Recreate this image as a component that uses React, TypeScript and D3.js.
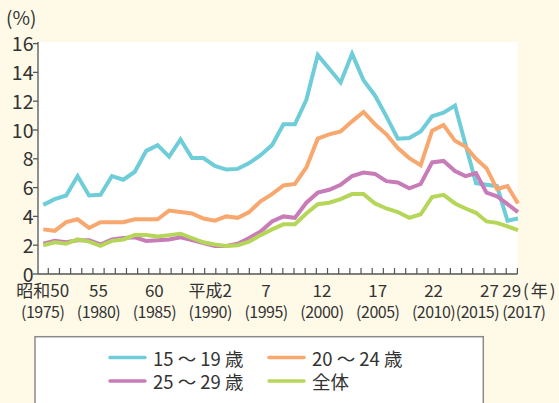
import React from "react";
import * as d3 from "d3";

// 年齢階級別の数値（%）, 1975〜2017
const years = d3.range(1975, 2018);

const age15to19 = [
  4.8, 5.2, 5.45, 6.8, 5.45, 5.5, 6.8, 6.55, 7.1, 8.55, 8.95, 8.15, 9.35, 8.05,
  8.05, 7.5, 7.25, 7.3, 7.7, 8.25, 8.95, 10.4, 10.4, 12.1, 15.2, 14.25, 13.3,
  15.3, 13.45, 12.4, 10.95, 9.4, 9.45, 9.9, 10.95, 11.2, 11.7, 9.0, 6.3, 6.2,
  6.1, 3.7, 3.85,
];
const age20to24 = [
  3.1, 3.0, 3.6, 3.8, 3.2, 3.6, 3.6, 3.6, 3.8, 3.8, 3.8, 4.4, 4.3, 4.2, 3.85,
  3.7, 4.0, 3.9, 4.3, 5.05, 5.55, 6.15, 6.25, 7.4, 9.4, 9.7, 9.9, 10.6, 11.25,
  10.4, 9.7, 8.75, 8.05, 7.55, 9.95, 10.35, 9.25, 8.85, 8.0, 7.35, 5.9, 6.1,
  4.9,
];
const age25to29 = [
  2.1, 2.3, 2.2, 2.35, 2.35, 2.05, 2.4, 2.5, 2.55, 2.3, 2.35, 2.4, 2.55, 2.35,
  2.15, 1.95, 1.95, 2.1, 2.5, 2.95, 3.65, 4.0, 3.9, 4.95, 5.65, 5.85, 6.2, 6.8,
  7.05, 6.95, 6.45, 6.35, 5.95, 6.25, 7.75, 7.85, 7.15, 6.8, 7.0, 5.65, 5.4,
  4.85, 4.3,
];
const allAges = [
  2.0, 2.2, 2.1, 2.4, 2.25, 1.95, 2.3, 2.4, 2.7, 2.7, 2.6, 2.7, 2.8, 2.5, 2.2,
  2.05, 1.95, 2.0, 2.25, 2.7, 3.1, 3.45, 3.45, 4.2, 4.85, 4.95, 5.2, 5.55,
  5.55, 4.9, 4.55, 4.3, 3.9, 4.15, 5.35, 5.5, 4.9, 4.55, 4.25, 3.65, 3.55, 3.3,
  3.05,
];

const seriesNames = ["15 ～ 19 歳", "20 ～ 24 歳", "25 ～ 29 歳", "全体"];
const seriesColors = ["#6fccd9", "#f8a86e", "#c77cb8", "#b6d659"];
const seriesValues = [age15to19, age20to24, age25to29, allAges];

const yTicks = [0, 2, 4, 6, 8, 10, 12, 14, 16];
const labelYears = [1975, 1980, 1985, 1990, 1995, 2000, 2005, 2010, 2015, 2017];
const eraLabels = ["昭和50", "55", "60", "平成2", "7", "12", "17", "22", "27", "29"];
const westernLabels = [
  "(1975)", "(1980)", "(1985)", "(1990)", "(1995)",
  "(2000)", "(2005)", "(2010)", "(2015)", "(2017)",
];
// the last two year labels are pushed apart so they don't overlap
const westernShift: Record<number, number> = { 2015: -12, 2017: 12 };

const W = 559;
const H = 403;
const FONT = "'Noto Sans CJK JP', 'Noto Sans', sans-serif";
const TEXT = "#333";
const AXIS = "#555";

export default function App() {
  const left = 38;
  const right = 517.4;
  const top = 42;

  const y = d3.scaleLinear().domain([0, 16]).range([274, 43.6]);
  // points are spaced a little tighter at the end of the series
  const x = d3.scaleLinear().domain([1975, 2011, 2017]).range([43.3, 455, 518]);
  const xLabel = d3.scaleLinear().domain([1975, 2017]).range([42.7, 511.8]);
  const halfStep = (xLabel(1976) - xLabel(1975)) / 2;

  const line = d3
    .line<number>()
    .x((_, i) => x(years[i]))
    .y((d) => y(d));

  const legendCols = [110, 269];
  const legendRows = [357.5, 381];

  return (
    <svg
      width={W}
      height={H}
      style={{ position: "absolute", left: 0, top: 0, background: "#fffae8" }}
      fontFamily={FONT}
    >
      <rect x={0} y={0} width={W} height={H} fill="#fffae8" />
      <rect x={left} y={top} width={right - left} height={y(0) - top} fill="#fff" />

      <text x={6} y={25} fontSize={19} fill={TEXT}>
        (%)
      </text>

      {/* y axis */}
      <line x1={left} x2={left} y1={top} y2={y(0)} stroke={AXIS} strokeWidth={1.3} />
      {yTicks.map((t) => (
        <g key={t}>
          <line x1={left - 5} x2={left} y1={y(t)} y2={y(t)} stroke={AXIS} strokeWidth={1.3} />
          <text
            x={33.5}
            y={y(t) - 1}
            fontSize={19.5}
            textAnchor="end"
            dominantBaseline="central"
            fill={TEXT}
          >
            {t}
          </text>
        </g>
      ))}

      {/* x axis */}
      <line x1={left} x2={right} y1={y(0)} y2={y(0)} stroke={AXIS} strokeWidth={1.3} />
      {years.map((yr) => (
        <line
          key={yr}
          x1={xLabel(yr) + halfStep}
          x2={xLabel(yr) + halfStep}
          y1={y(0)}
          y2={y(0) - 6}
          stroke={AXIS}
          strokeWidth={1.2}
        />
      ))}
      {labelYears.map((yr, i) => (
        <g key={yr} fill={TEXT} textAnchor="middle">
          <text x={xLabel(yr)} y={297} fontSize={17}>
            {eraLabels[i]}
          </text>
          <text
            x={xLabel(yr) + (westernShift[yr] || 0)}
            y={318}
            fontSize={16}
            letterSpacing={-0.5}
          >
            {westernLabels[i]}
          </text>
        </g>
      ))}
      <text x={523} y={297} fontSize={17} fill={TEXT} letterSpacing={2}>
        (年)
      </text>

      {/* series */}
      {seriesValues.map((vals, i) => (
        <path
          key={seriesNames[i]}
          d={line(vals) || ""}
          fill="none"
          stroke={seriesColors[i]}
          strokeWidth={4}
          strokeLinejoin="miter"
        />
      ))}

      {/* legend */}
      <rect x={35} y={336.7} width={448.3} height={80} fill="#fff" stroke="#8a8a8a" strokeWidth={1.5} />
      {seriesNames.map((name, i) => {
        const cx = legendCols[i % 2];
        const cy = legendRows[Math.floor(i / 2)];
        return (
          <g key={name}>
            <line
              x1={cx}
              x2={cx + 35}
              y1={cy}
              y2={cy}
              stroke={seriesColors[i]}
              strokeWidth={3.5}
              strokeLinecap="round"
            />
            <text x={cx + 43} y={cy} fontSize={18.5} dominantBaseline="central" fill={TEXT}>
              {name}
            </text>
          </g>
        );
      })}
    </svg>
  );
}
